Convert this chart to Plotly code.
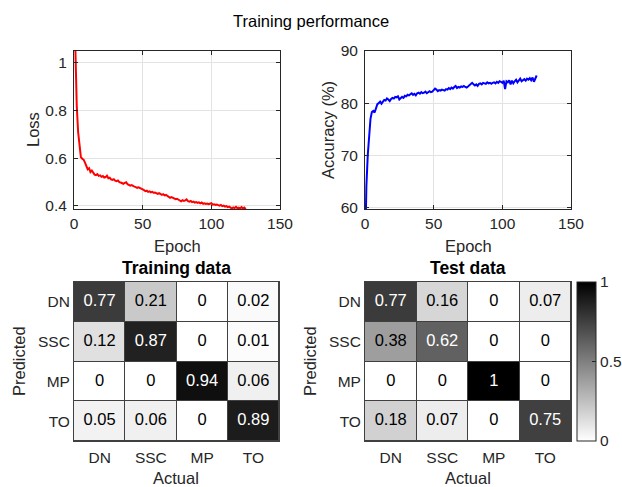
import plotly.graph_objects as go

# ---------------- data ----------------
epochs = list(range(0, 126))
loss = [1.30, 0.98, 0.82, 0.71, 0.645, 0.605, 0.598, 0.594, 0.582, 0.570,
        0.553, 0.558, 0.542, 0.548, 0.536, 0.531, 0.529, 0.533, 0.526, 0.528,
        0.522, 0.525, 0.519, 0.521, 0.527, 0.516, 0.518, 0.511, 0.509, 0.512,
        0.506, 0.504, 0.507, 0.500, 0.498, 0.496, 0.493, 0.497, 0.499, 0.491,
        0.488, 0.485, 0.487, 0.482, 0.481, 0.479, 0.476, 0.478, 0.474, 0.471,
        0.469, 0.466, 0.462, 0.464, 0.459, 0.461, 0.457, 0.459, 0.455, 0.456,
        0.452, 0.450, 0.453, 0.448, 0.446, 0.449, 0.444, 0.446, 0.441, 0.437,
        0.434, 0.437, 0.433, 0.431, 0.428, 0.430, 0.427, 0.425, 0.419, 0.424,
        0.421, 0.423, 0.427, 0.420, 0.418, 0.421, 0.416, 0.418, 0.414, 0.416,
        0.413, 0.415, 0.411, 0.414, 0.409, 0.411, 0.408, 0.410, 0.407, 0.409,
        0.411, 0.405, 0.407, 0.404, 0.406, 0.403, 0.401, 0.404, 0.399, 0.401,
        0.397, 0.399, 0.395, 0.397, 0.392, 0.389, 0.394, 0.391, 0.396, 0.390,
        0.393, 0.389, 0.395, 0.390, 0.393, 0.386]
accuracy = [50.0, 64.0, 70.0, 74.0, 77.0, 78.3, 78.5, 78.2, 79.3, 79.8,
            80.0, 80.3, 79.9, 80.2, 80.6, 80.5, 80.9, 80.7, 80.4, 80.8,
            81.0, 80.9, 81.2, 81.1, 81.3, 80.7, 81.0, 81.2, 81.0, 81.4,
            81.3, 81.6, 81.5, 81.7, 81.9, 81.6, 81.8, 81.5, 81.9, 82.0,
            81.8, 82.1, 81.9, 82.0, 82.2, 81.9, 82.1, 82.3, 82.1, 82.2,
            82.5, 82.8, 82.6, 82.3, 82.5, 82.4, 82.6, 82.5, 82.4, 82.7,
            82.6, 82.9, 82.7, 83.0, 82.8, 83.1, 83.3, 82.9, 83.1, 83.0,
            83.2, 83.1, 83.3, 83.1, 83.0, 83.2, 83.5, 83.8, 83.9, 83.6,
            83.4, 83.6, 83.3, 83.7, 83.8, 83.6, 83.9, 83.8, 83.7, 84.0,
            83.8, 83.9, 83.7, 83.9, 84.0, 83.8, 84.1, 83.9, 84.2, 84.1,
            83.9, 84.3, 82.7, 84.2, 84.0, 84.4, 83.6, 84.3, 83.8, 84.2,
            84.5, 84.0, 84.3, 84.7, 84.2, 84.4, 84.6, 84.3, 84.7, 84.5,
            84.8, 84.4, 84.9, 84.1, 84.6, 85.3]

classes = ["DN", "SSC", "MP", "TO"]
train_cm = [[0.77, 0.21, 0, 0.02],
            [0.12, 0.87, 0, 0.01],
            [0, 0, 0.94, 0.06],
            [0.05, 0.06, 0, 0.89]]
test_cm = [[0.77, 0.16, 0, 0.07],
           [0.38, 0.62, 0, 0],
           [0, 0, 1, 0],
           [0.18, 0.07, 0, 0.75]]

W, H = 622, 487
FONT = "Liberation Sans, Arial, sans-serif"
TXT = "#262626"
AX = "#262626"

def px(x):
    return x / W

def py(y):
    return 1 - y / H

fig = go.Figure()

fig.add_trace(go.Scatter(x=epochs, y=loss, mode="lines",
                         line=dict(color="#ff0000", width=2),
                         xaxis="x", yaxis="y", showlegend=False))
fig.add_trace(go.Scatter(x=epochs, y=accuracy, mode="lines",
                         line=dict(color="#0000ff", width=2),
                         xaxis="x2", yaxis="y2", showlegend=False))

gray = [[0, "#ffffff"], [1, "#000000"]]

def add_cm(cm, xa, ya, showscale):
    fig.add_trace(go.Heatmap(z=cm, x=classes, y=classes, colorscale=gray,
                             zmin=0, zmax=1, showscale=showscale, xgap=1, ygap=1,
                             hoverinfo="skip", xaxis=xa, yaxis=ya,
                             colorbar=dict(x=px(577), xanchor="left", xpad=0, ypad=0,
                                           y=py(361.5), yanchor="middle",
                                           len=159, lenmode="pixels",
                                           thickness=19, thicknessmode="pixels",
                                           outlinewidth=1, outlinecolor=AX,
                                           tickvals=[0, 0.5, 1], ticktext=["0", "0.5", "1"],
                                           ticks="inside", ticklen=4, tickcolor=AX,
                                           tickfont=dict(size=15.5, color=TXT, family=FONT))))
    xs, ys, ts, cs = [], [], [], []
    for i, row in enumerate(cm):
        for j, v in enumerate(row):
            xs.append(classes[j])
            ys.append(classes[i])
            ts.append(f"{v:g}")
            cs.append("#ffffff" if v > 0.5 else "#000000")
    fig.add_trace(go.Scatter(x=xs, y=ys, text=ts, mode="text",
                             textfont=dict(size=16.5, color=cs, family=FONT),
                             hoverinfo="skip", showlegend=False, xaxis=xa, yaxis=ya))

add_cm(train_cm, "x3", "y3", False)
add_cm(test_cm, "x4", "y4", True)

line_ax = dict(showline=True, linecolor=AX, linewidth=1, mirror="allticks",
               ticks="inside", ticklen=4, tickcolor=AX, showgrid=True,
               gridcolor="#e3e3e3", zeroline=False, automargin=False,
               tickfont=dict(size=15.5, color=TXT, family=FONT))

top_y = [py(209), py(51)]
bot_y = [py(441), py(282)]

fig.update_layout(
    width=W, height=H,
    margin=dict(l=0, r=0, t=0, b=0, autoexpand=False),
    paper_bgcolor="white", plot_bgcolor="white",
    font=dict(family=FONT, color=TXT),
    xaxis=dict(domain=[px(74), px(280)], range=[0, 150], tickvals=[0, 50, 100, 150],
               anchor="y", **line_ax),
    yaxis=dict(domain=top_y, range=[0.387, 1.05], tickvals=[0.4, 0.6, 0.8, 1],
               ticktext=["0.4", "0.6", "0.8", "1"], anchor="x",
               ticklabelstandoff=3, **line_ax),
    xaxis2=dict(domain=[px(365), px(571)], range=[0, 150], tickvals=[0, 50, 100, 150],
                anchor="y2", **line_ax),
    yaxis2=dict(domain=top_y, range=[59.7, 90], tickvals=[60, 70, 80, 90],
                anchor="x2", ticklabelstandoff=3, **line_ax),
)

hm_ax = dict(showline=True, linecolor="#404040", linewidth=1, mirror=True,
             ticks="", showgrid=False, zeroline=False, automargin=False,
             tickfont=dict(size=15.5, color=TXT, family=FONT))
fig.update_layout(
    xaxis3=dict(domain=[px(74), px(279)], anchor="y3", ticklabelstandoff=2, **hm_ax),
    yaxis3=dict(domain=bot_y, anchor="x3", autorange="reversed",
                ticklabelstandoff=0, **hm_ax),
    xaxis4=dict(domain=[px(365), px(571)], anchor="y4", ticklabelstandoff=2, **hm_ax),
    yaxis4=dict(domain=bot_y, anchor="x4", autorange="reversed",
                ticklabelstandoff=0, **hm_ax),
)

# dark backing so that cell gaps show as grid lines
for xr, yr in (("x3", "y3"), ("x4", "y4")):
    fig.add_shape(type="rect", xref=f"{xr} domain", yref=f"{yr} domain",
                  x0=0, x1=1, y0=0, y1=1, fillcolor="#404040",
                  line=dict(width=0), layer="below")

def label(text, x, y, size=16.5, angle=0, bold=False, color=TXT):
    fig.add_annotation(text=f"<b>{text}</b>" if bold else text,
                       x=px(x), y=py(y), xref="paper", yref="paper",
                       showarrow=False, textangle=angle,
                       xanchor="center", yanchor="middle",
                       font=dict(size=size, color=color, family=FONT))

label("Training performance", 311, 21, size=16.5, color="#000000")
label("Epoch", 177, 246)
label("Epoch", 468, 246)
label("Loss", 33, 130, angle=-90)
label("Accuracy (%)", 328, 130, angle=-90)
label("Training data", 176, 268, size=17.5, bold=True, color="#000000")
label("Test data", 468, 268, size=17.5, bold=True, color="#000000")
label("Actual", 176, 478)
label("Actual", 468, 478)
label("Predicted", 19, 361, angle=-90)
label("Predicted", 310, 361, angle=-90)

fig.write_html("out.html", config={"displayModeBar": False},
               post_script="document.body.style.margin='0';document.body.style.overflow='hidden';")
